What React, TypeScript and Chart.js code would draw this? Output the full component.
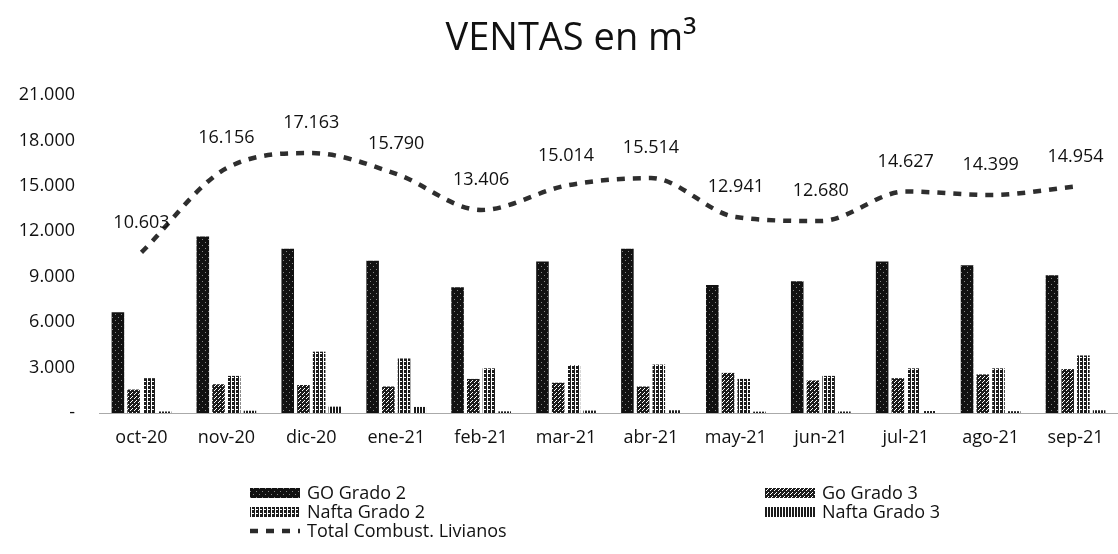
import React, { useEffect, useRef } from 'react';
import { Chart, registerables } from 'chart.js';
Chart.register(...registerables);

const title = 'VENTAS en m³';
const months = ['oct-20', 'nov-20', 'dic-20', 'ene-21', 'feb-21', 'mar-21', 'abr-21', 'may-21', 'jun-21', 'jul-21', 'ago-21', 'sep-21'];
const goGrado2 = [6650, 11650, 10850, 10050, 8300, 10000, 10850, 8450, 8700, 10000, 9750, 9100];
const goGrado3 = [1550, 1900, 1850, 1750, 2250, 2000, 1750, 2650, 2150, 2300, 2550, 2900];
const naftaGrado2 = [2300, 2450, 4050, 3600, 2950, 3150, 3200, 2250, 2450, 2950, 2950, 3800];
const naftaGrado3 = [100, 150, 420, 400, 110, 160, 180, 90, 100, 130, 120, 180];
const totalLivianos = [10603, 16156, 17163, 15790, 13406, 15014, 15514, 12941, 12680, 14627, 14399, 14954];
const yTicks = [0, 3000, 6000, 9000, 12000, 15000, 18000, 21000];
const seriesNames = ['GO Grado 2', 'Go Grado 3', 'Nafta Grado 2', 'Nafta Grado 3', 'Total Combust. Livianos'];

const FONT = "'Open Sans', 'Liberation Sans', sans-serif";
const fmt = (v: number) => (v === 0 ? '-' : String(v).replace(/\B(?=(\d{3})+(?!\d))/g, '.'));

function makePattern(w: number, h: number, draw: (c: CanvasRenderingContext2D) => void) {
  const cv = document.createElement('canvas');
  cv.width = w;
  cv.height = h;
  const c = cv.getContext('2d')!;
  draw(c);
  return c.createPattern(cv, 'repeat')!;
}

export default function App() {
  const ref = useRef<HTMLCanvasElement | null>(null);
  useEffect(() => {
    document.body.style.margin = '0';
    const pGo2 = makePattern(6, 6, (c) => {
      c.fillStyle = '#111';
      c.fillRect(0, 0, 6, 6);
      c.fillStyle = '#888';
      c.fillRect(1, 2, 1, 1);
      c.fillRect(4, 5, 1, 1);
    });
    const pGo3 = makePattern(4, 4, (c) => {
      c.fillStyle = '#1c1c1c';
      c.fillRect(0, 0, 4, 4);
      c.fillStyle = '#fff';
      c.fillRect(0, 0, 1, 1);
      c.fillRect(2, 2, 1, 1);
      c.fillRect(3, 1, 1, 1);
    });
    const pNafta2 = makePattern(4, 4, (c) => {
      c.fillStyle = '#1c1c1c';
      c.fillRect(0, 0, 4, 4);
      c.fillStyle = '#fff';
      c.fillRect(3, 0, 1, 4);
      c.fillRect(0, 1, 2, 1);
    });
    const pNafta3 = makePattern(3, 4, (c) => {
      c.fillStyle = '#fff';
      c.fillRect(0, 0, 3, 4);
      c.fillStyle = '#1c1c1c';
      c.fillRect(0, 0, 2, 4);
    });
    const fills = [pGo2, pGo3, pNafta2, pNafta3];

    const overlay = {
      id: 'overlay',
      afterDraw(chart: any) {
        const ctx = chart.ctx as CanvasRenderingContext2D;
        ctx.save();
        ctx.fillStyle = '#111';
        ctx.font = `38px ${FONT}`;
        ctx.textAlign = 'center';
        ctx.textBaseline = 'middle';
        ctx.fillText(title, 571, 39);
        const meta = chart.getDatasetMeta(4);
        ctx.font = `18px ${FONT}`;
        meta.data.forEach((pt: any, i: number) => {
          ctx.fillText(fmt(totalLivianos[i]), pt.x, pt.y - 30);
        });
        const items = [
          { x: 250, y: 493, i: 0 },
          { x: 765, y: 493, i: 1 },
          { x: 250, y: 512, i: 2 },
          { x: 765, y: 512, i: 3 },
          { x: 250, y: 531, i: 4 },
        ];
        ctx.font = `18px ${FONT}`;
        ctx.textAlign = 'left';
        items.forEach((it) => {
          if (it.i < 4) {
            ctx.fillStyle = fills[it.i];
            ctx.fillRect(it.x, it.y - 5, 50, 10);
          } else {
            ctx.strokeStyle = '#2a2a2a';
            ctx.lineWidth = 4.5;
            ctx.setLineDash([8, 8]);
            ctx.beginPath();
            ctx.moveTo(it.x, it.y);
            ctx.lineTo(it.x + 50, it.y);
            ctx.stroke();
            ctx.setLineDash([]);
          }
          ctx.fillStyle = '#111';
          ctx.fillText(seriesNames[it.i], it.x + 57, it.y + 1);
        });
        ctx.restore();
      },
    };

    const barDs = (label: string, data: number[], bg: any) => ({
      type: 'bar' as const,
      label,
      data,
      backgroundColor: bg,
      borderWidth: 0,
      order: 1,
      barPercentage: 0.8,
      categoryPercentage: 0.74,
    });

    const chart = new Chart(ref.current!, {
      type: 'bar',
      data: {
        labels: months,
        datasets: [
          barDs(seriesNames[0], goGrado2, pGo2),
          barDs(seriesNames[1], goGrado3, pGo3),
          barDs(seriesNames[2], naftaGrado2, pNafta2),
          barDs(seriesNames[3], naftaGrado3, pNafta3),
          {
            type: 'line' as const,
            label: seriesNames[4],
            data: totalLivianos,
            borderColor: '#2e2e2e',
            borderWidth: 4.5,
            borderDash: [8, 8],
            pointRadius: 0,
            cubicInterpolationMode: 'monotone',
            fill: false,
            order: 0,
          } as any,
        ],
      },
      options: {
        animation: false,
        responsive: false,
        devicePixelRatio: 1,
        layout: { padding: { top: 95, left: 0, right: 0, bottom: 0 } },
        plugins: {
          legend: { display: false },
          title: { display: false },
          tooltip: { enabled: false },
        },
        scales: {
          x: {
            grid: { display: false, drawTicks: false },
            border: { display: true, color: '#aaa', dash: [2, 3], width: 1 },
            ticks: { color: '#111', font: { family: FONT, size: 18 }, padding: 14, maxRotation: 0 },
            afterFit: (s: any) => {
              s.height = 141;
            },
          },
          y: {
            min: 0,
            max: 21000,
            grid: { display: false, drawTicks: false },
            border: { display: false },
            afterBuildTicks: (s: any) => {
              s.ticks = yTicks.map((v) => ({ value: v }));
            },
            ticks: {
              color: '#111',
              font: { family: FONT, size: 18 },
              padding: 24,
              callback: (v: any) => fmt(Number(v)),
            },
            afterFit: (s: any) => {
              s.width = 99;
            },
          },
        },
      },
      plugins: [overlay],
    });
    return () => chart.destroy();
  }, []);
  return (
    <div style={{ position: 'fixed', left: 0, top: 0, width: 1118, height: 554, background: '#fff' }}>
      <canvas ref={ref} width={1118} height={554} />
    </div>
  );
}
